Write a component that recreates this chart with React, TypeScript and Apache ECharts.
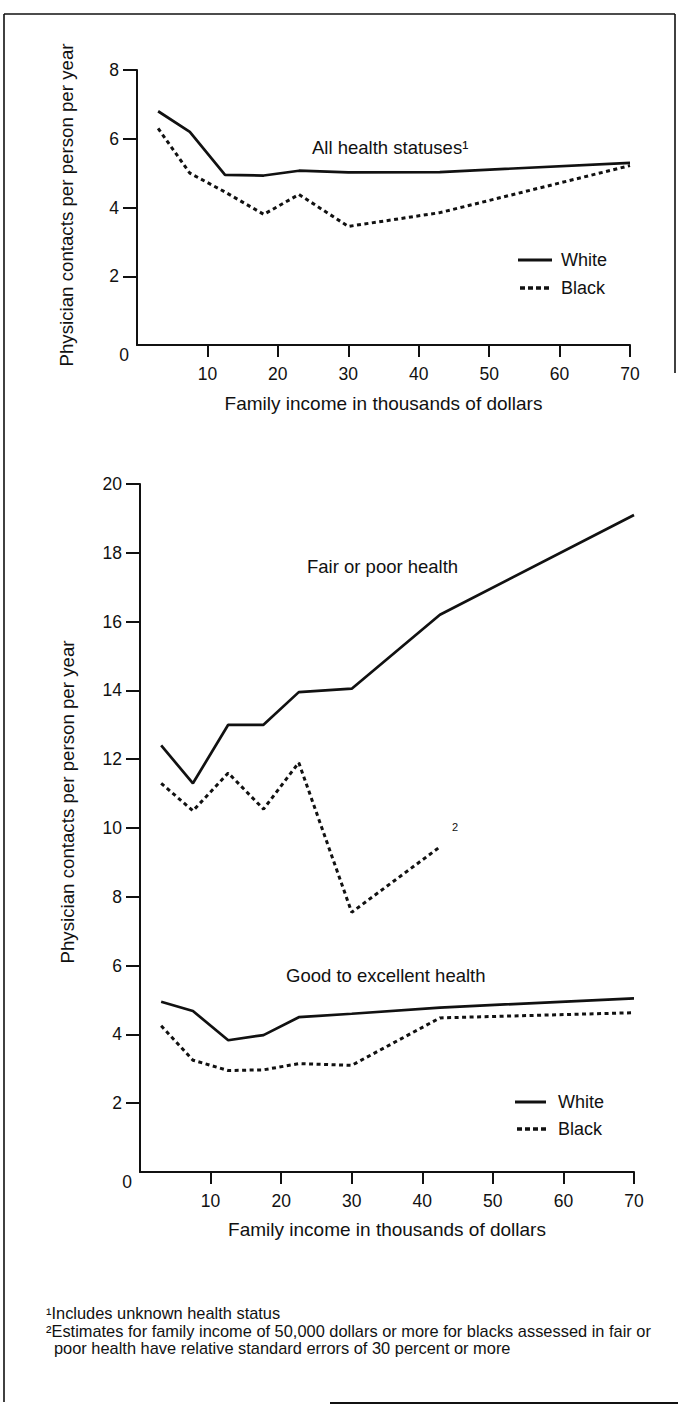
import React, { useEffect, useRef } from "react";
import * as echarts from "echarts";

// ---------- data ----------
const incomeTop = [3, 7.5, 12.5, 18, 23, 30, 43, 70];
const whiteAllHealth = [6.8, 6.2, 4.95, 4.93, 5.07, 5.02, 5.03, 5.3];
const blackAllHealth = [6.3, 5.0, 4.45, 3.8, 4.38, 3.45, 3.85, 5.22];

const incomeBottom = [3, 7.5, 12.5, 17.5, 22.5, 30, 42.5, 70];
const whiteFairPoor = [12.4, 11.3, 13.0, 13.0, 13.95, 14.05, 16.2, 19.1];
const blackFairPoor = [11.3, 10.5, 11.6, 10.55, 11.9, 7.55, 9.45];
const whiteGoodExcellent = [4.95, 4.68, 3.83, 3.98, 4.5, 4.6, 4.78, 5.05];
const blackGoodExcellent = [4.25, 3.25, 2.95, 2.97, 3.15, 3.1, 4.48, 4.63];

const xTickValues = [10, 20, 30, 40, 50, 60, 70];
const yTicksTop = [2, 4, 6, 8];
const yTicksBottom = [2, 4, 6, 8, 10, 12, 14, 16, 18, 20];
const legendNames = ["White", "Black"];
const xTitle = "Family income in thousands of dollars";
const yTitle = "Physician contacts per person per year";
const panelTitles = ["All health statuses\u00B9", "Fair or poor health", "Good to excellent health"];
const footnotes = [
  "\u00B9Includes unknown health status",
  "\u00B2Estimates for family income of 50,000 dollars or more for blacks assessed in fair or",
  "poor health have relative standard errors of 30 percent or more",
];

// ---------- style ----------
const INK = "#111";
const FONT = "'Liberation Sans', Arial, Helvetica, sans-serif";
const solid = { color: INK, width: 2.7 };
const dotted = { color: INK, width: 3, type: [4, 3.5], cap: "butt" };

const pairs = (xs: number[], ys: number[]) => ys.map((y, i) => [xs[i], y]);

const makeX = (gridIndex: number, nameGap: number) => ({
  type: "value",
  gridIndex,
  min: 0,
  max: 70,
  interval: 10,
  splitLine: { show: false },
  axisLine: { show: true, onZero: false, lineStyle: { color: INK, width: 2 } },
  axisTick: { show: true, customValues: xTickValues, length: 12, lineStyle: { color: INK, width: 2 } },
  axisLabel: { customValues: xTickValues, margin: 20, color: INK, fontSize: 17.5, fontFamily: FONT },
  name: xTitle,
  nameLocation: "middle",
  nameGap,
  nameTextStyle: { color: INK, fontSize: 19, fontFamily: FONT },
});

const makeY = (gridIndex: number, max: number, ticks: number[], nameGap: number, pad: number) => ({
  type: "value",
  gridIndex,
  min: 0,
  max,
  interval: 2,
  splitLine: { show: false },
  axisLine: { show: true, onZero: false, lineStyle: { color: INK, width: 2 } },
  axisTick: { show: true, customValues: ticks, length: 14, lineStyle: { color: INK, width: 2 } },
  axisLabel: { customValues: ticks, margin: 18, color: INK, fontSize: 17.5, fontFamily: FONT },
  name: yTitle,
  nameLocation: "middle",
  nameRotate: 90,
  nameGap,
  nameTextStyle: { color: INK, fontSize: 18.7, fontFamily: FONT, padding: [0, 0, 0, pad] },
});

const txt = (x: number, y: number, text: string, size: number, align = "left") => ({
  type: "text",
  x,
  y,
  silent: true,
  style: { text, fill: INK, fontSize: size, fontFamily: FONT, align, verticalAlign: "middle" },
});

const seg = (x1: number, y1: number, x2: number, y2: number, ls: any) => ({
  type: "line",
  silent: true,
  shape: { x1, y1, x2, y2 },
  style: { stroke: INK, lineWidth: ls.width, lineDash: ls.type && Array.isArray(ls.type) ? ls.type : null },
});

export default function App() {
  const ref = useRef<HTMLDivElement>(null);
  useEffect(() => {
    if (!ref.current) return;
    const chart = echarts.init(ref.current, undefined, { renderer: "svg" });
    const line = (name: string, xi: number, data: number[][], ls: any) => ({
      name,
      type: "line",
      xAxisIndex: xi,
      yAxisIndex: xi,
      data,
      symbol: "none",
      silent: true,
      lineStyle: ls,
    });
    chart.setOption({
      animation: false,
      backgroundColor: "#fff",
      grid: [
        { left: 137, top: 70, width: 493, height: 275 },
        { left: 140, top: 484, width: 494, height: 688 },
      ],
      xAxis: [makeX(0, 49), makeX(1, 48)],
      yAxis: [makeY(0, 8, yTicksTop, 61.5, 5), makeY(1, 20, yTicksBottom, 63.5, 52)],
      series: [
        line(legendNames[0], 0, pairs(incomeTop, whiteAllHealth), solid),
        line(legendNames[1], 0, pairs(incomeTop, blackAllHealth), dotted),
        line(legendNames[0], 1, pairs(incomeBottom, whiteFairPoor), solid),
        line(legendNames[1], 1, pairs(incomeBottom, blackFairPoor), dotted),
        line(legendNames[0], 1, pairs(incomeBottom, whiteGoodExcellent), solid),
        line(legendNames[1], 1, pairs(incomeBottom, blackGoodExcellent), dotted),
      ],
      graphic: [
        // frame
        seg(4, 14, 675, 14, { width: 1.6 }),
        seg(4, 14, 4, 1402, { width: 1.6 }),
        seg(675, 14, 675, 373, { width: 1.6 }),
        seg(330, 1403, 678, 1403, { width: 2 }),
        // axis zero labels
        txt(124, 355, "0", 17.5, "center"),
        txt(127, 1182, "0", 17.5, "center"),
        // panel titles
        txt(312, 147, panelTitles[0], 18.5),
        txt(307, 566, panelTitles[1], 18.5),
        txt(286, 975, panelTitles[2], 18.5),
        txt(452, 827, "2", 11),
        // legends
        seg(518, 260, 552, 260, { width: 3 }),
        txt(561, 260, legendNames[0], 18),
        seg(520, 288, 552, 288, { width: 3.5, type: [5, 3] }),
        txt(561, 288, legendNames[1], 18),
        seg(515, 1102, 546, 1102, { width: 3 }),
        txt(558, 1102, legendNames[0], 18),
        seg(517, 1129, 546, 1129, { width: 3.5, type: [5, 3] }),
        txt(558, 1129, legendNames[1], 18),
        // footnotes
        txt(46, 1313, footnotes[0], 16.4),
        txt(46, 1331, footnotes[1], 16.4),
        txt(54, 1348, footnotes[2], 16.4),
      ],
    });
    return () => chart.dispose();
  }, []);
  return (
    <div
      ref={ref}
      style={{ position: "absolute", left: 0, top: 0, width: 678, height: 1408, background: "#fff" }}
    />
  );
}
